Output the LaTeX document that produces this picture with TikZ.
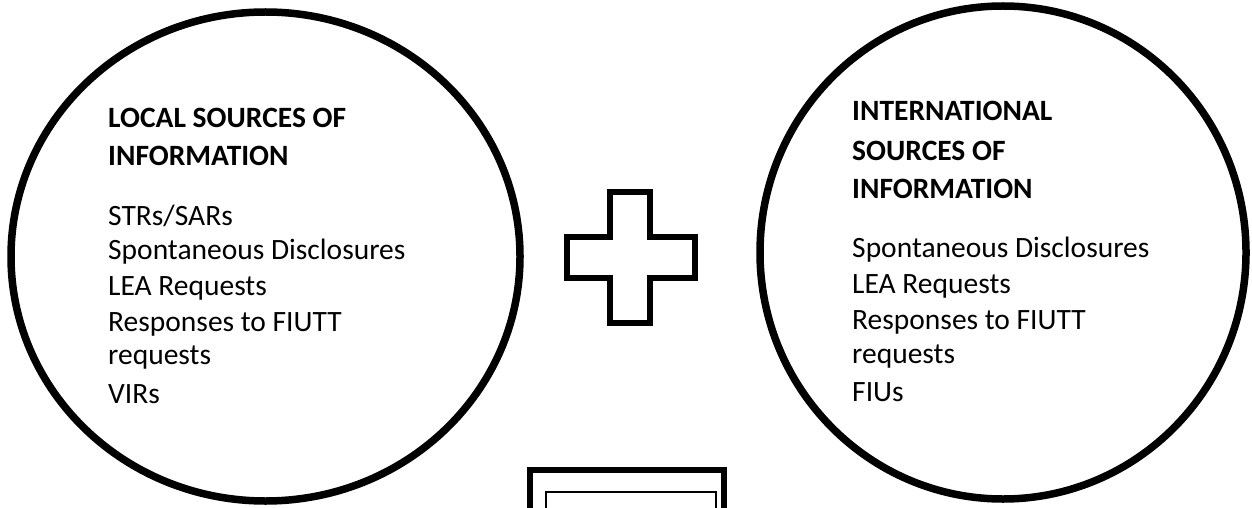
\documentclass[tikz,border=0pt]{standalone}
\usepackage{fontspec}
\setmainfont{Carlito}
\usetikzlibrary{shapes.geometric, positioning}

\begin{document}
\begin{tikzpicture}[x=1pt, y=-1pt,
    source/.style={draw, ellipse, line width=7.5pt, inner sep=0pt},
    heading/.style={anchor=base west, inner sep=0pt, font=\fontsize{29.5}{35}\selectfont\bfseries},
    item/.style={anchor=base west, inner sep=0pt, font=\fontsize{29.5}{35}\selectfont},
    outline/.style={line width=6pt, line join=miter}
]
\clip (0,0) rectangle (1252,508);

% Sources
\node[source, minimum width=509pt, minimum height=489pt] (local) at (265.5,256.5) {};
\node[source, minimum width=486pt, minimum height=493pt] (intl) at (1003,252.5) {};

% Local sources
\node[heading] (lochead1) at (108,128) {LOCAL SOURCES OF};
\node[heading] (lochead2) at (108,165) {INFORMATION};
\node[item] (loc1) at (108,225) {STRs/SARs};
\node[item] (loc2) at (108,259) {Spontaneous Disclosures};
\node[item] (loc3) at (108,295) {LEA Requests};
\node[item] (loc4) at (108,331) {Responses to FIUTT};
\node[item] (loc5) at (108,364) {requests};
\node[item] (loc6) at (108,403) {VIRs};

% International sources
\node[heading] (inthead1) at (852,121) {INTERNATIONAL};
\node[heading] (inthead2) at (852,160) {SOURCES OF};
\node[heading] (inthead3) at (852,198) {INFORMATION};
\node[item] (int1) at (852,257) {Spontaneous Disclosures};
\node[item] (int2) at (852,293) {LEA Requests};
\node[item] (int3) at (852,329) {Responses to FIUTT};
\node[item] (int4) at (852,363) {requests};
\node[item] (int5) at (852,401) {FIUs};

% Plus sign
\draw[outline] (610,192) -- (650,192) -- (650,237) -- (695,237) -- (695,278)
    -- (650,278) -- (650,323) -- (610,323) -- (610,278) -- (567,278)
    -- (567,237) -- (610,237) -- cycle;

% Box below
\draw[outline] (530,530) -- (530,470) -- (724,470) -- (724,530);
\draw[line width=2.5pt] (546,530) |- (716,492) -- (716,530);

\end{tikzpicture}
\end{document}
